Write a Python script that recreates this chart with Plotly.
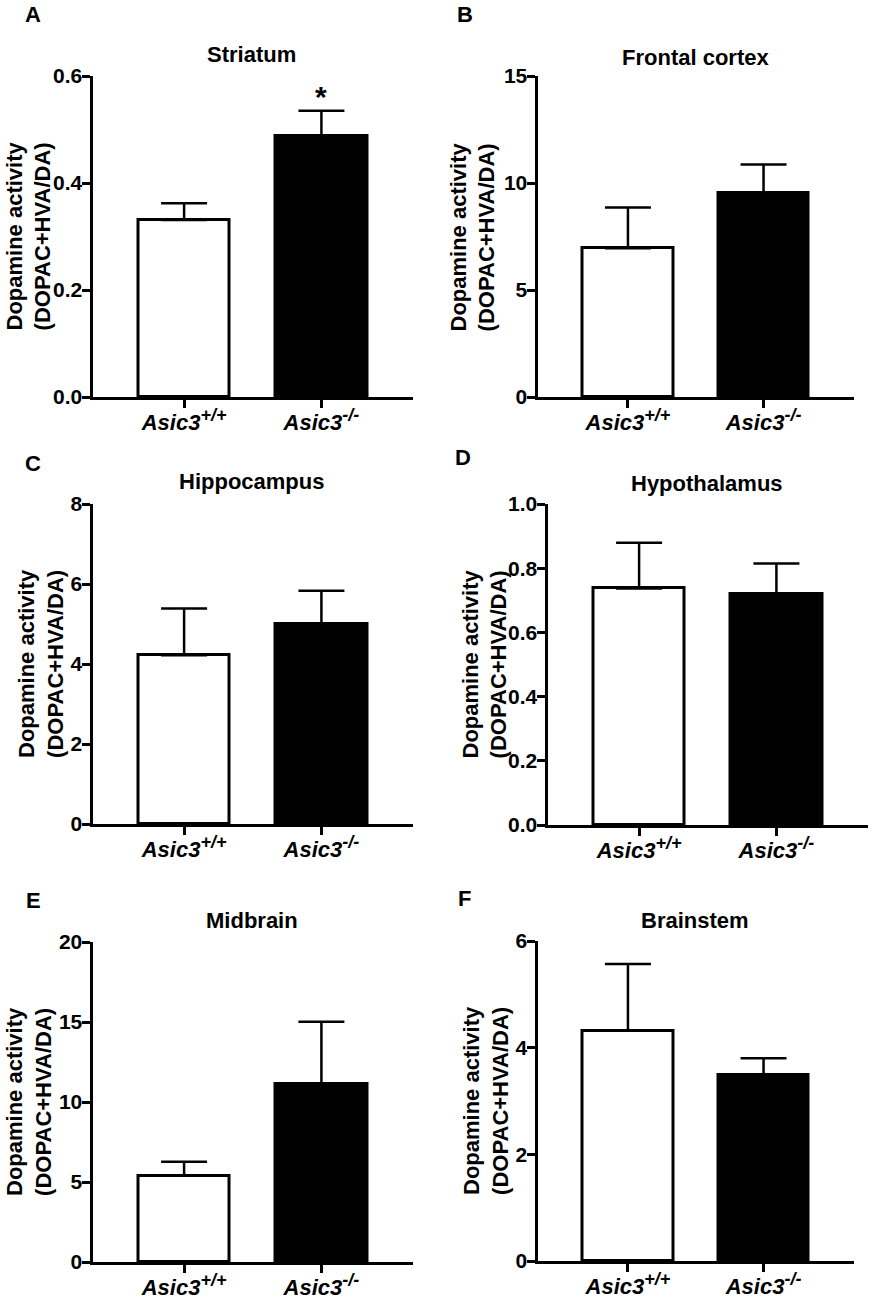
import plotly.graph_objects as go

# genotypes on the x axis
genotypes = ["Asic3+/+", "Asic3-/-"]
tick_text = ["<i>Asic3</i><sup><i><span style='font-size:18px'>+/+</span></i></sup>",
             "<i>Asic3</i><sup><i><span style='font-size:18px'>-/-</span></i></sup>"]

regions = ["Striatum", "Frontal cortex", "Hippocampus", "Hypothalamus", "Midbrain", "Brainstem"]
letters = ["A", "B", "C", "D", "E", "F"]
stars = ["*", "", "", "", "", ""]

# dopamine activity (DOPAC+HVA/DA), mean and SEM
striatum_mean = [0.331, 0.487]
striatum_sem = [0.031, 0.048]
frontal_mean = [6.95, 9.55]
frontal_sem = [1.90, 1.32]
hippocampus_mean = [4.22, 5.00]
hippocampus_sem = [1.17, 0.83]
hypothalamus_mean = [0.737, 0.721]
hypothalamus_sem = [0.142, 0.094]
midbrain_mean = [5.39, 11.10]
midbrain_sem = [0.88, 3.92]
brainstem_mean = [4.32, 3.49]
brainstem_sem = [1.25, 0.31]

y_max = [0.6, 15, 8, 1.0, 20, 6]
y_step = [0.2, 5, 2, 0.2, 5, 2]
y_format = [".1f", "d", "d", ".1f", "d", "d"]

means = [striatum_mean, frontal_mean, hippocampus_mean, hypothalamus_mean, midbrain_mean, brainstem_mean]
sems = [striatum_sem, frontal_sem, hippocampus_sem, hypothalamus_sem, midbrain_sem, brainstem_sem]

W, H = 873, 1300
FONT = "Arial, Liberation Sans, sans-serif"

# plot boxes in pixels: left, right, top, bottom
boxes = [
    (91, 413, 76, 397),
    (536, 854, 76, 397),
    (91, 413, 504, 824),
    (546, 868, 504, 825),
    (91, 413, 942, 1262),
    (536, 854, 941, 1261),
]
title_y = [55, 57, 482, 483, 920, 920]
letter_pos = [(33, 15), (465, 15), (33, 463), (463, 457), (33, 900), (464, 898)]
ytitle_x = [29, 473, 41, 484, 29, 486]


def px_x(v):
    return v / W


def px_y(v):
    return 1 - v / H


fig = go.Figure()
annotations = []

for i in range(6):
    n = "" if i == 0 else str(i + 1)
    left, right, top, bottom = boxes[i]

    fig.add_trace(go.Bar(
        x=genotypes,
        y=means[i],
        width=0.667,
        marker=dict(color=["white", "black"], line=dict(color="black", width=3)),
        error_y=dict(type="data", symmetric=False, array=sems[i], arrayminus=[0, 0],
                     color="black", thickness=2.5, width=23),
        xaxis="x" + n,
        yaxis="y" + n,
        showlegend=False,
    ))

    fig.layout["xaxis" + n] = dict(
        domain=[px_x(left + 1.5), px_x(right)],
        anchor="y" + n,
        automargin=False,
        range=[-0.667, 1.667],
        tickvals=genotypes,
        ticktext=tick_text,
        ticks="outside", ticklen=8, tickwidth=3, tickcolor="black",
        ticklabelstandoff=-4,
        showline=True, linewidth=3, linecolor="black",
        showgrid=False, zeroline=False,
        tickfont=dict(family=FONT, size=22, color="black", weight="bold"),
    )
    fig.layout["yaxis" + n] = dict(
        domain=[px_y(bottom), px_y(top)],
        anchor="x" + n,
        automargin=False,
        range=[0, y_max[i]],
        dtick=y_step[i],
        tick0=0,
        tickformat=y_format[i],
        ticks="outside", ticklen=8, tickwidth=3, tickcolor="black",
        ticklabelstandoff=-5,
        showline=True, linewidth=3, linecolor="black",
        showgrid=False, zeroline=False,
        tickfont=dict(family=FONT, size=21, color="black", weight="bold"),
    )

    annotations.append(dict(
        text="<b>" + regions[i] + "</b>", xref="paper", yref="paper",
        x=px_x((left + right) / 2), y=px_y(title_y[i]),
        xanchor="center", yanchor="middle", showarrow=False,
        font=dict(family=FONT, size=22, color="black"),
    ))
    annotations.append(dict(
        text="<b>" + letters[i] + "</b>", xref="paper", yref="paper",
        x=px_x(letter_pos[i][0]), y=px_y(letter_pos[i][1]),
        xanchor="center", yanchor="middle", showarrow=False,
        font=dict(family=FONT, size=22, color="black"),
    ))
    annotations.append(dict(
        text="<b>Dopamine activity<br>(DOPAC+HVA/DA)</b>", xref="paper", yref="paper",
        x=px_x(ytitle_x[i]), y=px_y((top + bottom) / 2),
        xanchor="center", yanchor="middle", textangle=-90, showarrow=False,
        font=dict(family=FONT, size=22, color="black"),
    ))
    if stars[i]:
        annotations.append(dict(
            text="<b>" + stars[i] + "</b>", xref="x" + n, yref="y" + n,
            x=genotypes[1], y=means[i][1] + sems[i][1],
            xanchor="center", yanchor="bottom", yshift=-4, showarrow=False,
            font=dict(family=FONT, size=30, color="black"),
        ))

fig.update_layout(
    template="none",
    width=W, height=H,
    margin=dict(l=0, r=0, t=0, b=0, autoexpand=False),
    paper_bgcolor="white",
    plot_bgcolor="white",
    annotations=annotations,
    bargap=0,
)

# drop the browser's default 8px body margin so the figure fills the window
fig.write_html("out.html", config={"displayModeBar": False},
               post_script="document.body.style.margin = '0';")
